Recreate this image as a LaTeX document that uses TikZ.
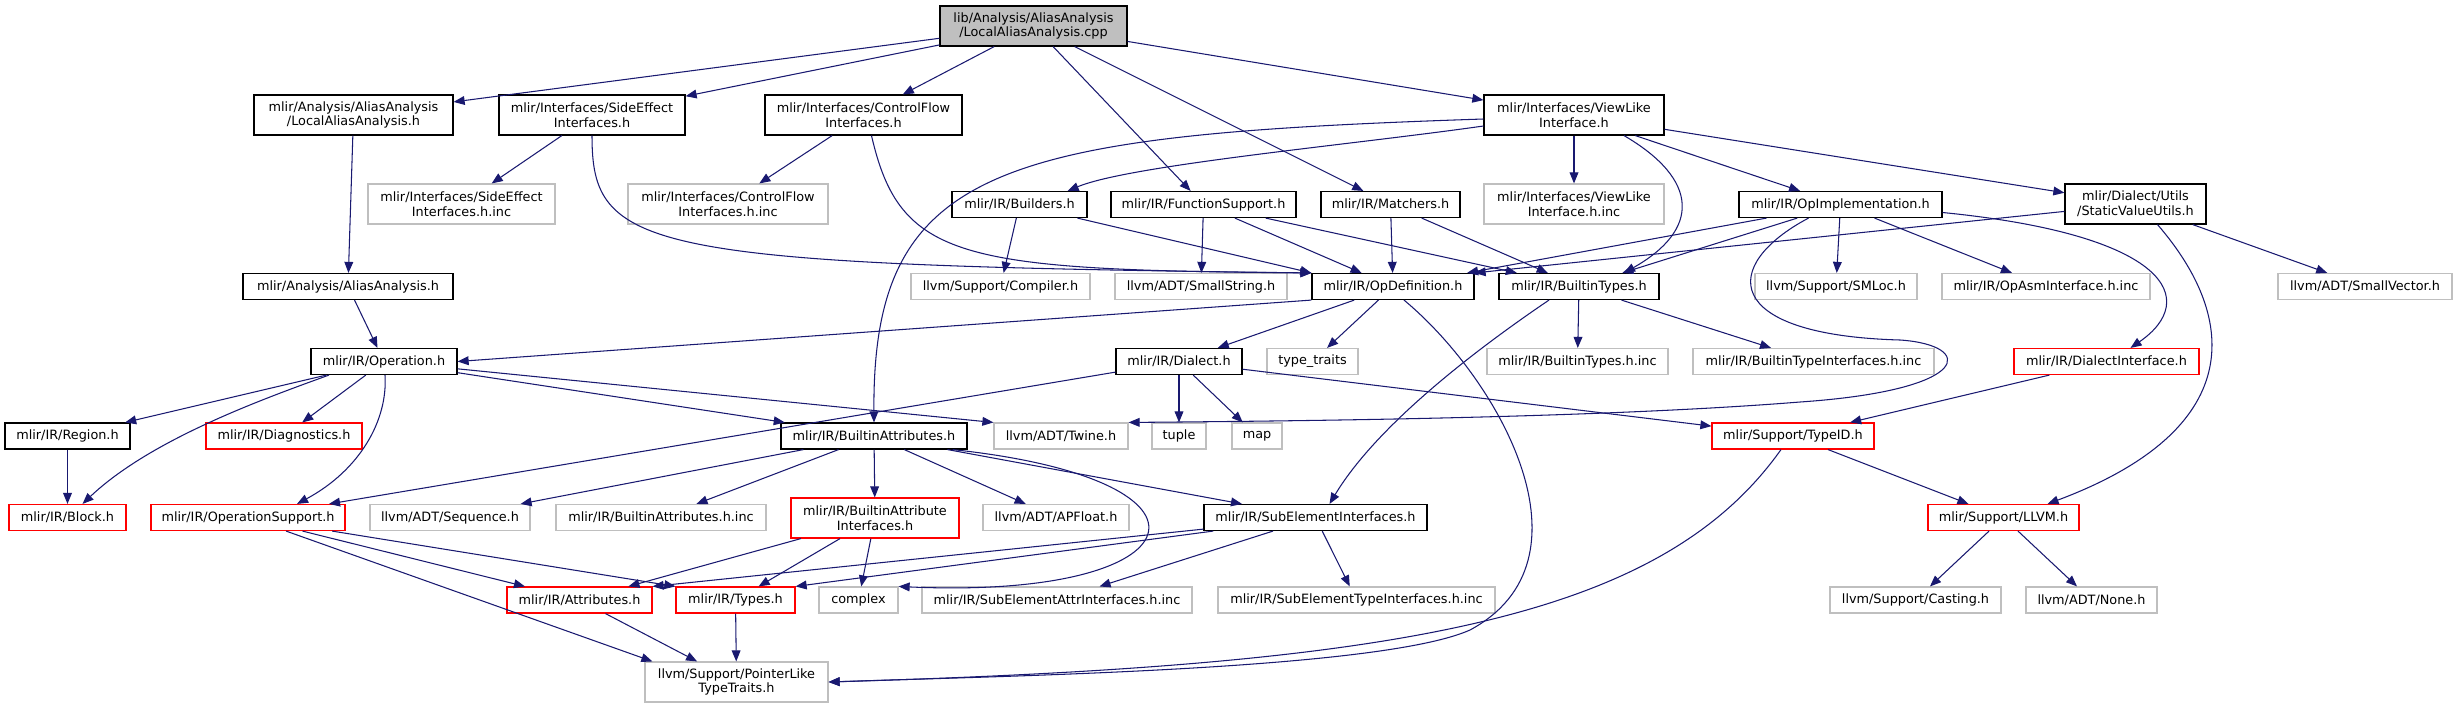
\documentclass[tikz,border=0pt]{standalone}
\usepackage{fontspec}
\setmainfont{DejaVu Sans}
\usepackage{tikz}
\usetikzlibrary{calc,arrows.meta}

\definecolor{edgeblue}{HTML}{191970}
\definecolor{grayline}{HTML}{BFBFBF}

\begin{document}
\begin{tikzpicture}[
    x=0.02cm, y=-0.02cm,
    every node/.style={font=\fontsize{7.3}{8.3}\selectfont},
    nd/.style={rectangle, draw=black, line width=0.65pt, fill=white,
               align=center, inner sep=1pt, minimum height=0.52cm},
    ext/.style={nd, draw=grayline},
    trunc/.style={nd, draw=red},
    src/.style={nd, fill=grayline},
    two/.style={minimum height=0.8cm},
    wd/.style={minimum width=#1*0.02cm},
    arr/.style={draw=edgeblue, line width=0.6pt,
                -{Triangle[length=6.3pt, width=5pt]}}
]
\useasboundingbox (0,0) rectangle (2458,708);

% files
\node[src, two, wd=187]   (root)   at (1033.5,26)  {lib/Analysis/AliasAnalysis\\/LocalAliasAnalysis.cpp};
\node[nd, two, wd=199]    (laah)   at (353.5,115)  {mlir/Analysis/AliasAnalysis\\/LocalAliasAnalysis.h};
\node[nd, two, wd=186]    (seih)   at (592,115)    {mlir/Interfaces/SideEffect\\Interfaces.h};
\node[nd, two, wd=197]    (cfih)   at (863.5,115)  {mlir/Interfaces/ControlFlow\\Interfaces.h};
\node[nd, two, wd=180]    (vlih)   at (1574,115)   {mlir/Interfaces/ViewLike\\Interface.h};
\node[ext, two, wd=187]   (seinc)  at (461.5,204)  {mlir/Interfaces/SideEffect\\Interfaces.h.inc};
\node[ext, two, wd=200]   (cfinc)  at (728,204)    {mlir/Interfaces/ControlFlow\\Interfaces.h.inc};
\node[ext, two, wd=180]   (vlinc)  at (1574,204)   {mlir/Interfaces/ViewLike\\Interface.h.inc};
\node[nd, two, wd=141]    (svu)    at (2135.5,204) {mlir/Dialect/Utils\\/StaticValueUtils.h};
\node[nd, wd=135]         (bld)    at (1019.5,204.5) {mlir/IR/Builders.h};
\node[nd, wd=185]         (fsup)   at (1203.5,204.5) {mlir/IR/FunctionSupport.h};
\node[nd, wd=139]         (mat)    at (1390.5,204.5) {mlir/IR/Matchers.h};
\node[nd, wd=203]         (opi)    at (1840.5,204.5) {mlir/IR/OpImplementation.h};
\node[nd, wd=210]         (aa)     at (348,286.5)  {mlir/Analysis/AliasAnalysis.h};
\node[ext, wd=179]        (comp)   at (1000.5,286.5) {llvm/Support/Compiler.h};
\node[ext, wd=172]        (sstr)   at (1201,286.5) {llvm/ADT/SmallString.h};
\node[nd, wd=162]         (opd)    at (1393,286.5) {mlir/IR/OpDefinition.h};
\node[nd, wd=160]         (bt)     at (1579,286.5) {mlir/IR/BuiltinTypes.h};
\node[ext, wd=162]        (sml)    at (1836,286.5) {llvm/Support/SMLoc.h};
\node[ext, wd=208]        (oai)    at (2046,286.5) {mlir/IR/OpAsmInterface.h.inc};
\node[ext, wd=174]        (svec)   at (2365,286.5) {llvm/ADT/SmallVector.h};
\node[nd, wd=146]         (op)     at (384,361.5)  {mlir/IR/Operation.h};
\node[nd, wd=126]         (dia)    at (1179,361.5) {mlir/IR/Dialect.h};
\node[ext, wd=91]         (tt)     at (1312.5,361.5) {type\_traits};
\node[ext, wd=181]        (btinc)  at (1577.5,361.5) {mlir/IR/BuiltinTypes.h.inc};
\node[ext, wd=241]        (btii)   at (1813.5,361.5) {mlir/IR/BuiltinTypeInterfaces.h.inc};
\node[trunc, wd=185]      (di)     at (2106.5,361.5) {mlir/IR/DialectInterface.h};
\node[nd, wd=125]         (reg)    at (67.5,436)   {mlir/IR/Region.h};
\node[trunc, wd=156]      (diag)   at (284,436)    {mlir/IR/Diagnostics.h};
\node[nd, wd=186]         (ba)     at (874,436)    {mlir/IR/BuiltinAttributes.h};
\node[ext, wd=134]        (twine)  at (1061,436)   {llvm/ADT/Twine.h};
\node[ext, wd=54]         (tup)    at (1179,436)   {tuple};
\node[ext, wd=50]         (map)    at (1257,436)   {map};
\node[trunc, wd=162]      (tid)    at (1793,436)   {mlir/Support/TypeID.h};
\node[trunc, wd=117]      (blk)    at (67.5,517.5) {mlir/IR/Block.h};
\node[trunc, wd=194]      (ops)    at (248,517.5)  {mlir/IR/OperationSupport.h};
\node[ext, wd=160]        (seq)    at (450,517.5)  {llvm/ADT/Sequence.h};
\node[ext, wd=210]        (bainc)  at (661,517.5)  {mlir/IR/BuiltinAttributes.h.inc};
\node[trunc, two, wd=168] (bai)    at (875,518)    {mlir/IR/BuiltinAttribute\\Interfaces.h};
\node[ext, wd=146]        (apf)    at (1056,517.5) {llvm/ADT/APFloat.h};
\node[nd, wd=223]         (sei)    at (1315.5,517.5) {mlir/IR/SubElementInterfaces.h};
\node[trunc, wd=151]      (llvm)   at (2003.5,517.5) {mlir/Support/LLVM.h};
\node[trunc, wd=145]      (attr)   at (579.5,600)  {mlir/IR/Attributes.h};
\node[trunc, wd=119]      (types)  at (735.5,600)  {mlir/IR/Types.h};
\node[ext, wd=79]         (cplx)   at (858.5,600)  {complex};
\node[ext, wd=270]        (seainc) at (1057,600)   {mlir/IR/SubElementAttrInterfaces.h.inc};
\node[ext, wd=277]        (setinc) at (1356.5,600) {mlir/IR/SubElementTypeInterfaces.h.inc};
\node[ext, wd=171]        (cast)   at (1915.5,600) {llvm/Support/Casting.h};
\node[ext, wd=131]        (none)   at (2091.5,600) {llvm/ADT/None.h};
\node[ext, two, wd=183]   (plt)    at (736.5,682)  {llvm/Support/PointerLike\\TypeTraits.h};

% includes
\draw[arr] (root) -- (laah);
\draw[arr] (root) -- (seih);
\draw[arr] (root) -- (cfih);
\draw[arr] (root) -- (fsup);
\draw[arr] (root) -- (mat);
\draw[arr] (root) -- (vlih);
\draw[arr] (laah) -- (aa);
\draw[arr] (aa) -- (op);
\draw[arr] (seih) -- (seinc);
\draw[arr] (seih.south) .. controls (592,250) and (640,265) .. (opd.north west);
\draw[arr] (cfih) -- (cfinc);
\draw[arr] ($(cfih.south)+(8,0)$) .. controls (900,260) and (960,270) .. (opd.north west);
\draw[arr] (vlih) -- (vlinc);
\draw[arr] ($(vlih.west)+(0,11)$) .. controls (1350,145) and (1130,165) .. ($(bld.north east)+(-20,0)$);
\draw[arr] ($(vlih.west)+(0,4)$) .. controls (1000,135) and (872,165) .. (ba.north);
\draw[arr] ($(vlih.south)+(50,0)$) .. controls (1700,180) and (1700,230) .. ($(bt.north)+(45,0)$);
\draw[arr] (vlih) -- (opi);
\draw[arr] (vlih) -- (svu);
\draw[arr] (bld) -- (comp);
\draw[arr] (bld) -- (opd.north west);
\draw[arr] (fsup) -- (sstr);
\draw[arr] (fsup) -- (opd);
\draw[arr] (fsup) -- (bt);
\draw[arr] (mat) -- (opd);
\draw[arr] (mat) -- (bt);
\draw[arr] (opi) -- (opd);
\draw[arr] (opi) -- (bt);
\draw[arr] (opi) -- (sml);
\draw[arr] (opi) -- (oai);
\draw[arr] ($(opi.east)+(0,8)$) .. controls (2170,235) and (2200,300) .. ($(di.north)+(24,0)$);
\draw[arr] ($(opi.south)+(-32,0)$) .. controls (1720,265) and (1720,335) .. (1900,340)
    .. controls (1975,345) and (1975,390) .. (1800,402)
    .. controls (1600,418) and (1300,421) .. (twine.north east);
\draw[arr] (svu) -- (opd.north east);
\draw[arr] (svu) -- (svec);
\draw[arr] ($(svu.south)+(22,0)$) .. controls (2240,320) and (2245,430) .. ($(llvm.north)+(44,0)$);
\draw[arr] (opd.south west) -- (op.east);
\draw[arr] (opd) -- (dia);
\draw[arr] (opd) -- (tt);
\draw[arr] ($(opd.south)+(11,0)$) .. controls (1500,380) and (1600,560) .. (1470,630)
    .. controls (1380,670) and (1000,676) .. (plt.east);
\draw[arr] (bt) -- (btinc);
\draw[arr] (bt) -- (btii);
\draw[arr] ($(bt.south)+(-30,0)$) .. controls (1490,340) and (1380,420) .. ($(sei.north)+(14,0)$);
\draw[arr] (dia) -- (ops);
\draw[arr] (dia) -- (tup);
\draw[arr] (dia) -- (map);
\draw[arr] (dia) -- (tid);
\draw[arr] (di) -- (tid);
\draw[arr] (op) -- (reg);
\draw[arr] ($(op.south)+(-55,0)$) .. controls (260,400) and (150,440) .. ($(blk.north)+(15,0)$);
\draw[arr] (op) -- (diag);
\draw[arr] ($(op.south)+(1,0)$) .. controls (388,420) and (360,470) .. ($(ops.north)+(49,0)$);
\draw[arr] (op) -- (ba);
\draw[arr] (op) -- (twine.north west);
\draw[arr] (reg) -- (blk);
\draw[arr] (ba) -- (seq);
\draw[arr] (ba) -- (bainc);
\draw[arr] (ba) -- (bai);
\draw[arr] (ba) -- (apf);
\draw[arr] ($(ba.south east)+(-15,0)$) .. controls (1240,480) and (1200,600) .. (cplx.north east);
\draw[arr] (ba) -- (sei);
\draw[arr] (bai) -- (attr);
\draw[arr] (bai) -- (types);
\draw[arr] (bai) -- (cplx);
\draw[arr] (ops) -- (attr);
\draw[arr] (ops) -- (types.north west);
\draw[arr] (ops) -- ($(plt.north west)+(8,0)$);
\draw[arr] (sei) -- (attr.north east);
\draw[arr] (sei) -- (types.north east);
\draw[arr] (sei) -- (seainc);
\draw[arr] (sei) -- (setinc);
\draw[arr] (attr) -- (plt);
\draw[arr] (types) -- (plt);
\draw[arr] (tid) -- (llvm);
\draw[arr] ($(tid.south)+(-12,0)$) .. controls (1660,620) and (1400,665) .. (plt.east);
\draw[arr] (llvm) -- (cast);
\draw[arr] (llvm) -- (none);
\end{tikzpicture}
\end{document}
